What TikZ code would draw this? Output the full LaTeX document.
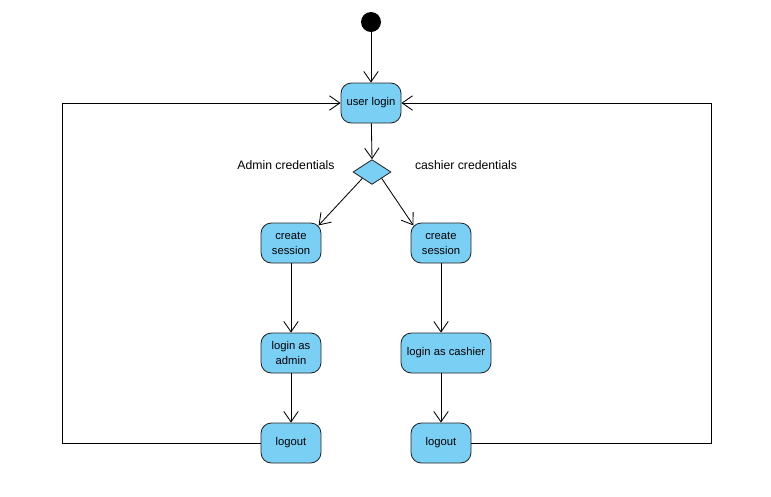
\documentclass[tikz,border=0pt]{standalone}
\usepackage{fontspec}
\setmainfont{Liberation Sans}
\usepackage{tikz}
\usetikzlibrary{positioning,arrows.meta,shapes.geometric}
\usepackage{xcolor}
\definecolor{actblue}{RGB}{122,207,245}

\begin{document}
\begin{tikzpicture}[>={Straight Barb[length=2.6mm,width=3.6mm]},semithick,font=\fontsize{8.7}{10.7}\selectfont,
  act/.style={draw=black!85,rounded corners=2.6mm,fill=actblue,minimum width=1.5cm,minimum height=1cm,align=center,inner sep=2pt,font=\fontsize{8}{10.7}\selectfont}]
\useasboundingbox (0,0) rectangle (19.275,-12.4);
\node[circle,fill=black,minimum size=0.5cm,inner sep=0pt] (start) at (9.275,-0.55) {};
\node[act] (login) at (9.275,-2.575) {user login};
\node[diamond,draw=black!85,fill=actblue,minimum width=0.95cm,minimum height=0.62cm,inner sep=0pt] (dec) at (9.3,-4.3) {};
\node (admincred) at (7.15,-4.12) {Admin credentials};
\node (cashcred) at (11.65,-4.12) {cashier credentials};
\node[act] (adminsess) at (7.275,-6.075) {create\\session};
\node[act] (cashsess) at (11.025,-6.075) {create\\session};
\node[act] (adminlogin) at (7.275,-8.825) {login as\\admin};
\node[act,minimum width=2.25cm] (cashlogin) at (11.15,-8.825) {login as cashier};
\node[act] (adminout) at (7.275,-11.075) {logout};
\node[act] (cashout) at (11.025,-11.075) {logout};
\coordinate (lbend) at (1.55,-2.575);
\coordinate (rbend) at (17.775,-2.575);
\draw[->] (start) -- (login);
\draw[->] (login) -- (dec.north);
\draw[->] (dec.south west) -- ([xshift=-2pt,yshift=-2pt]adminsess.north east);
\draw[->] (dec.south east) -- ([xshift=2pt,yshift=-2pt]cashsess.north west);
\draw[->] (adminsess) -- (adminlogin);
\draw[->] (cashsess) -- (cashsess |- cashlogin.north);
\draw[->] (adminlogin) -- (adminout);
\draw[->] (cashlogin.south -| cashout) -- (cashout);
\draw[->] (adminout.west) -| (lbend) -- (login.west);
\draw[->] (cashout.east) -| (rbend) -- (login.east);
\end{tikzpicture}
\end{document}
